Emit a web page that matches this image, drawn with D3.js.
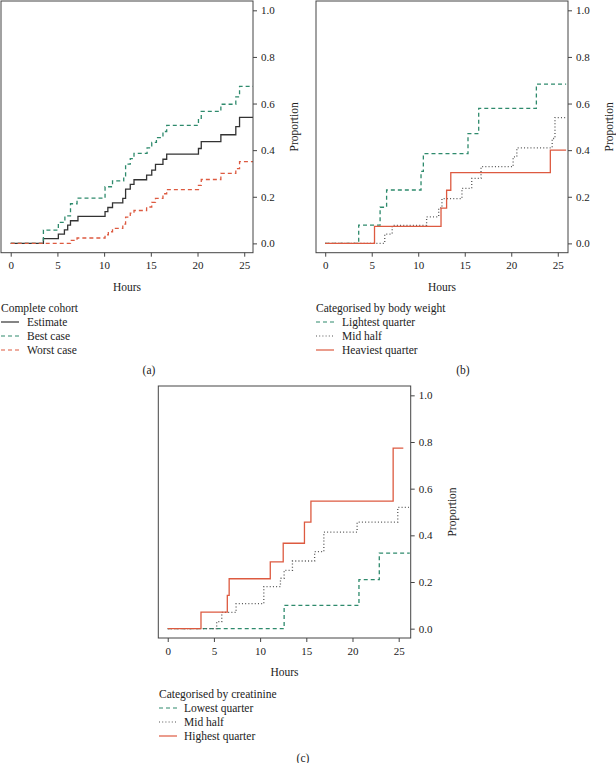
<!DOCTYPE html>
<html><head><meta charset="utf-8">
<script src="https://cdn.jsdelivr.net/npm/d3@7"></script>
<style>
body{margin:0;background:#fff;}
svg text{font-family:"Liberation Serif","Times New Roman",serif;fill:#222;}
</style></head>
<body><svg id="c" width="616" height="763"></svg>
<script>
// ---------- DATA ----------
const yTicks = [0, 0.2, 0.4, 0.6, 0.8, 1.0];
const xTicks = [0, 5, 10, 15, 20, 25];

// Panel (a) Complete cohort
const aEstimateT = [0, 3.5, 5.1, 5.75, 6.1, 6.4, 7.2, 10.1, 10.4, 10.9, 12.0, 12.3, 12.8, 13.2, 14.55, 15.1, 15.5, 16.3, 16.7, 20.1, 20.4, 22.5, 24.1, 24.5, 25.94];
const aEstimateV = [0, 0.02, 0.04, 0.058, 0.078, 0.097, 0.116, 0.136, 0.154, 0.174, 0.193, 0.233, 0.253, 0.273, 0.293, 0.314, 0.339, 0.361, 0.383, 0.407, 0.437, 0.466, 0.501, 0.541, 0.541];
const aBestT = [0, 3.5, 5.1, 5.8, 6.4, 7.1, 10.1, 10.9, 12.1, 12.3, 12.8, 13.2, 14.6, 15.1, 15.6, 16.3, 16.7, 20.1, 20.4, 22.5, 24.1, 24.5, 25.94];
const aBestV = [0, 0.057, 0.09, 0.118, 0.17, 0.194, 0.243, 0.268, 0.29, 0.34, 0.364, 0.386, 0.41, 0.433, 0.454, 0.48, 0.506, 0.537, 0.566, 0.597, 0.629, 0.674, 0.674];
const aWorstT = [0, 6.4, 7.1, 10.1, 10.45, 10.9, 12.0, 12.3, 12.8, 13.2, 14.55, 15.1, 15.5, 16.3, 16.7, 20.1, 20.4, 22.5, 24.1, 24.5, 25.94];
const aWorstV = [0, 0.013, 0.023, 0.037, 0.05, 0.064, 0.083, 0.113, 0.13, 0.141, 0.156, 0.176, 0.193, 0.213, 0.231, 0.249, 0.274, 0.3, 0.321, 0.351, 0.351];

// Panel (b) Categorised by body weight
const bLightT = [0, 3.6, 5.9, 6.6, 10.3, 10.55, 15.35, 16.5, 22.7, 25.9];
const bLightV = [0, 0.078, 0.155, 0.229, 0.309, 0.385, 0.471, 0.579, 0.683, 0.683];
const bMidT = [0, 6.4, 7.2, 10.9, 12.2, 12.55, 14.7, 15.75, 16.75, 20.2, 20.6, 24.4, 24.7, 25.9];
const bMidV = [0, 0.04, 0.077, 0.114, 0.152, 0.192, 0.236, 0.279, 0.329, 0.371, 0.41, 0.45, 0.54, 0.54];
const bHeavyT = [0, 5.3, 12.45, 13.05, 13.5, 24.2, 25.9];
const bHeavyV = [0, 0.073, 0.151, 0.228, 0.304, 0.4, 0.4];

// Panel (c) Categorised by creatinine
const cLowT = [0, 12.6, 20.7, 22.9, 26.2];
const cLowV = [0, 0.1, 0.21, 0.324, 0.324];
const cMidT = [0, 5.3, 5.85, 7.4, 10.4, 12.2, 12.6, 13.5, 15.9, 16.9, 20.5, 24.9, 26.1];
const cMidV = [0, 0.03, 0.07, 0.107, 0.18, 0.216, 0.25, 0.29, 0.33, 0.414, 0.457, 0.52, 0.52];
const cHighT = [0, 3.6, 6.45, 6.65, 11.1, 12.5, 14.8, 15.5, 24.4, 25.5];
const cHighV = [0, 0.071, 0.143, 0.214, 0.286, 0.366, 0.457, 0.547, 0.774, 0.774];

const legendTitles = ["Complete cohort", "Categorised by body weight", "Categorised by creatinine"];
const legendA = ["Estimate", "Best case", "Worst case"];
const legendB = ["Lightest quarter", "Mid half", "Heaviest quarter"];
const legendC = ["Lowest quarter", "Mid half", "Highest quarter"];
const panelLabels = ["(a)", "(b)", "(c)"];

// ---------- STYLES ----------
const GREEN = "#2e8a6c", RED = "#dd5a40", BLACK = "#333", GREY = "#555";
const styles = {
  solidK: {color: BLACK, dash: null},
  dashG: {color: GREEN, dash: "4,3"},
  dashR: {color: RED, dash: "4,3"},
  dotK: {color: GREY, dash: "1,2.2"},
  solidR: {color: RED, dash: null}
};

const svg = d3.select("#c");

function panel(cfg) {
  const g = svg.append("g");
  const x = d3.scaleLinear().domain(cfg.xd).range([cfg.left, cfg.right]);
  const y = d3.scaleLinear().domain([-0.04, 1.04]).range([cfg.bottom, cfg.top]);

  // series
  const line = d3.line().curve(d3.curveStepAfter).x(d => x(d[0])).y(d => y(d[1]));
  cfg.series.forEach(s => {
    const pts = s.t.map((t, i) => [t, s.v[i]]);
    g.append("path").attr("d", line(pts)).attr("fill", "none")
      .attr("stroke", s.style.color).attr("stroke-width", 1.3)
      .attr("stroke-dasharray", s.style.dash);
  });

  // box
  g.append("rect").attr("x", cfg.left).attr("y", cfg.top)
    .attr("width", cfg.right - cfg.left).attr("height", cfg.bottom - cfg.top)
    .attr("fill", "none").attr("stroke", "#444").attr("stroke-width", 1);

  // axes
  const xa = g.append("g").attr("transform", `translate(0,${cfg.bottom})`)
    .call(d3.axisBottom(x).tickValues(xTicks).tickSize(4).tickPadding(5).tickFormat(d3.format("d")));
  const ya = g.append("g").attr("transform", `translate(${cfg.right},0)`)
    .call(d3.axisRight(y).tickValues(yTicks).tickSize(4).tickPadding(4).tickFormat(d3.format(".1f")));
  [xa, ya].forEach(a => {
    a.select(".domain").remove();
    a.selectAll("line").attr("stroke", "#444");
    a.selectAll("text").attr("font-size", 11).attr("font-family", "Liberation Serif").attr("fill", "#222");
  });

  g.append("text").attr("x", (cfg.left + cfg.right) / 2).attr("y", cfg.bottom + 38)
    .attr("text-anchor", "middle").attr("font-size", 11.5).text("Hours");
  g.append("text").attr("transform", `translate(${cfg.right + 45},${(cfg.top + cfg.bottom) / 2}) rotate(-90)`)
    .attr("text-anchor", "middle").attr("font-size", 11.5).text("Proportion");

  // legend
  const L = g.append("g");
  L.append("text").attr("x", cfg.lx).attr("y", cfg.ly).attr("font-size", 11.5).text(cfg.ltitle);
  cfg.series.forEach((s, i) => {
    const yy = cfg.ly + 14 * (i + 1) - 4;
    L.append("line").attr("x1", cfg.lx).attr("x2", cfg.lx + 18).attr("y1", yy).attr("y2", yy)
      .attr("stroke", s.style.color).attr("stroke-width", 1.2).attr("stroke-dasharray", s.style.dash);
    L.append("text").attr("x", cfg.lx + cfg.ltx).attr("y", yy + 4).attr("font-size", 11.5).text(cfg.litems[i]);
  });
  g.append("text").attr("x", cfg.px).attr("y", cfg.py).attr("text-anchor", "middle").attr("font-size", 11.5).text(cfg.plabel);
}

panel({
  xd: [-1.04, 25.94], left: 1, right: 253, top: 1, bottom: 252.7,
  series: [
    {t: aEstimateT, v: aEstimateV, style: styles.solidK},
    {t: aBestT, v: aBestV, style: styles.dashG},
    {t: aWorstT, v: aWorstV, style: styles.dashR}
  ],
  lx: 1, ly: 312, ltx: 26, ltitle: legendTitles[0], litems: legendA,
  px: 149, py: 374, plabel: panelLabels[0]
});

panel({
  xd: [-0.99, 26.1], left: 316, right: 568, top: 1, bottom: 252.7,
  series: [
    {t: bLightT, v: bLightV, style: styles.dashG},
    {t: bMidT, v: bMidV, style: styles.dotK},
    {t: bHeavyT, v: bHeavyV, style: styles.solidR}
  ],
  lx: 316, ly: 312, ltx: 26, ltitle: legendTitles[1], litems: legendB,
  px: 463, py: 374, plabel: panelLabels[1]
});

panel({
  xd: [-1.02, 26.3], left: 158.3, right: 410.7, top: 386, bottom: 638,
  series: [
    {t: cLowT, v: cLowV, style: styles.dashG},
    {t: cMidT, v: cMidV, style: styles.dotK},
    {t: cHighT, v: cHighV, style: styles.solidR}
  ],
  lx: 159, ly: 698, ltx: 25, ltitle: legendTitles[2], litems: legendC,
  px: 303, py: 762, plabel: panelLabels[2]
});
</script></body></html>
